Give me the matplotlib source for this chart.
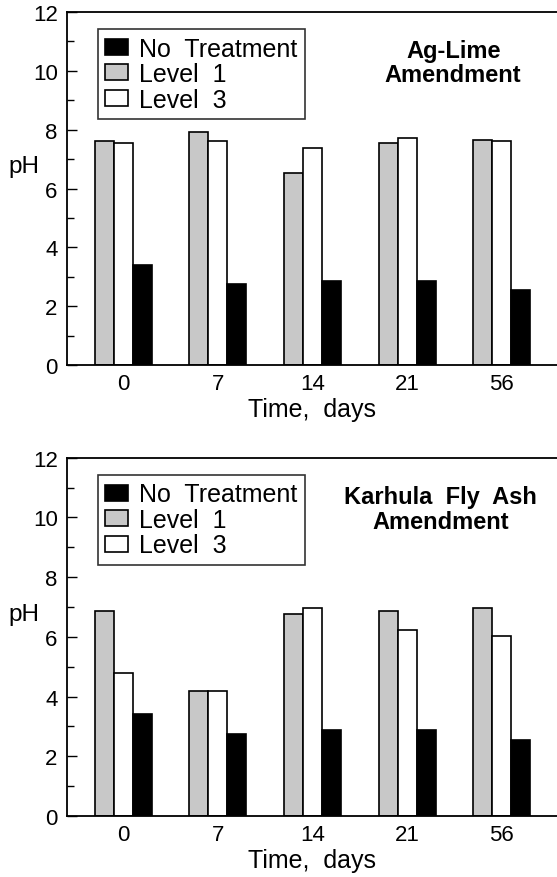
import numpy as np
import matplotlib
matplotlib.use("Agg")
import matplotlib.pyplot as plt

plt.rcParams["font.family"] = ["Liberation Sans", "DejaVu Sans"]

days = ["0", "7", "14", "21", "56"]

# Ag-Lime amendment
lime_none = [3.41, 2.74, 2.87, 2.87, 2.55]
lime_lev1 = [7.61, 7.93, 6.54, 7.56, 7.66]
lime_lev3 = [7.56, 7.63, 7.39, 7.73, 7.63]

# Karhula fly ash amendment
ash_none = [3.43, 2.75, 2.89, 2.89, 2.54]
ash_lev1 = [6.86, 4.19, 6.78, 6.88, 6.98]
ash_lev3 = [4.79, 4.19, 6.96, 6.24, 6.02]

titles = ["Ag-Lime\nAmendment", "Karhula  Fly  Ash\nAmendment"]
title_x = [0.788, 0.762]


def panel(ax, none, lev1, lev3, title, tx):
    x = np.arange(len(days))
    w = 0.2
    b1 = ax.bar(x - w, lev1, w, color="#c8c8c8", edgecolor="black", linewidth=1.2)
    b3 = ax.bar(x, lev3, w, color="white", edgecolor="black", linewidth=1.2)
    b0 = ax.bar(x + w, none, w, color="black", edgecolor="black", linewidth=1.2)
    ax.set_xlim(-0.59, 4.583)
    ax.set_ylim(0, 12)
    ax.set_xticks(x)
    ax.set_xticklabels(days, fontsize=16)
    ax.tick_params(axis="x", length=0, pad=6)
    ax.set_yticks(np.arange(0, 13, 2))
    ax.set_yticks(np.arange(1, 12, 2), minor=True)
    ax.tick_params(axis="y", which="major", direction="in", length=7.5, width=1, labelsize=16, pad=7)
    ax.tick_params(axis="y", which="minor", direction="in", length=5, width=1)
    for s in ["left", "bottom", "top"]:
        ax.spines[s].set_linewidth(1.3)
    ax.spines["right"].set_visible(False)
    ax.set_xlabel("Time,  days", fontsize=18, labelpad=2)
    ax.set_ylabel("pH", fontsize=17.5, rotation=0, ha="center", va="center")
    ax.yaxis.set_label_coords(-0.089, 0.565)
    leg = ax.legend([b0, b1, b3], ["No  Treatment", "Level  1", "Level  3"],
                    loc="upper left", bbox_to_anchor=(0.062, 0.952), borderaxespad=0,
                    fontsize=18, frameon=True, fancybox=False, handlelength=0.9,
                    handleheight=0.6, handletextpad=0.45, labelspacing=0.06,
                    borderpad=0.3)
    leg.get_frame().set_edgecolor("black")
    leg.get_frame().set_linewidth(1.2)
    ax.text(tx, 0.857, title, transform=ax.transAxes, ha="center", va="center",
            fontsize=17, fontweight="bold", linespacing=1.08)


fig = plt.figure(figsize=(5.57, 8.78), dpi=100)
ax1 = fig.add_axes([0.121, 0.5831, 0.879, 0.402])
ax2 = fig.add_axes([0.121, 0.0695, 0.879, 0.408])
panel(ax1, lime_none, lime_lev1, lime_lev3, titles[0], title_x[0])
panel(ax2, ash_none, ash_lev1, ash_lev3, titles[1], title_x[1])

fig.savefig("out.png", dpi=100)
